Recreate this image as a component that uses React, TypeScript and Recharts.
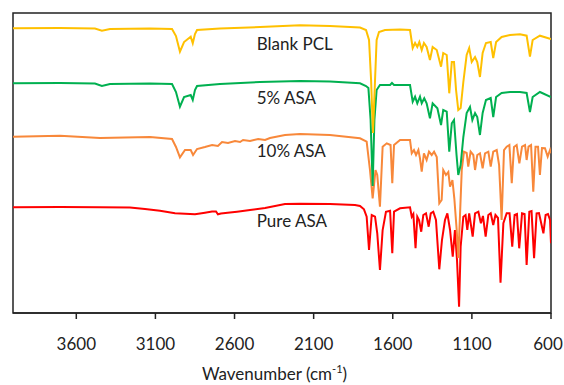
import React from 'react';
import { LineChart, Line, XAxis, YAxis, ReferenceArea } from 'recharts';

// Wavenumber ticks (cm-1)
const xTicks = [3600, 3100, 2600, 2100, 1600, 1100, 600];

// Blank PCL
const pclWn = [4000, 3703, 3482, 3438, 3387, 3134, 2995, 2970, 2945, 2919, 2877, 2864, 2850, 2837, 2692, 2439, 2186, 1997, 1807, 1769, 1750, 1737, 1725, 1712, 1702, 1687, 1649, 1554, 1491, 1474, 1459, 1445, 1432, 1417, 1403, 1386, 1365, 1348, 1322, 1295, 1281, 1259, 1243, 1227, 1213, 1200, 1186, 1171, 1154, 1133, 1117, 1101, 1080, 1066, 1049, 1032, 1011, 981, 965, 947, 912, 859, 796, 754, 733, 716, 670, 600];
const pclT = [284.7, 285, 284.5, 282.3, 284, 284.5, 284, 277, 261.3, 271, 276.3, 269.7, 279, 283, 284.5, 286, 287.7, 287, 285.5, 283, 273, 233, 180, 233, 273, 281, 283, 283.5, 283, 265, 270, 266, 271, 263, 270, 266, 253, 266, 263, 246.3, 260, 258, 219.7, 251, 251, 223, 203, 205, 231, 258, 265, 251, 256, 251, 236, 260, 270, 271, 255, 271, 276, 278, 278.7, 277.3, 256.3, 273, 277.3, 274];

// 5% ASA
const asa5Wn = [4000, 3703, 3482, 3438, 3387, 3134, 2995, 2970, 2945, 2919, 2877, 2864, 2850, 2837, 2692, 2439, 2186, 1997, 1807, 1769, 1754, 1740, 1727, 1716, 1702, 1681, 1617, 1605, 1592, 1491, 1474, 1459, 1445, 1428, 1417, 1401, 1386, 1365, 1348, 1318, 1295, 1281, 1259, 1243, 1227, 1213, 1197, 1186, 1171, 1154, 1133, 1112, 1097, 1080, 1066, 1049, 1032, 1011, 981, 965, 947, 912, 859, 796, 754, 733, 716, 670, 600];
const asa5T = [229.7, 230, 229.5, 227, 229, 229.5, 229, 221, 206.3, 216, 218, 213, 223, 227, 229, 231, 232, 231.5, 229.7, 227, 225, 193, 127, 193, 223, 228, 228, 230, 228, 228, 211.3, 216.3, 209.7, 216.3, 209.7, 214.7, 209.7, 194.7, 209.7, 204.7, 188, 203, 201.3, 161.3, 189.7, 193, 158, 138, 148, 176, 200, 206, 193, 200, 196, 178, 200, 213, 215, 196, 216, 220, 221, 221, 220, 201, 216, 221, 216];

// 10% ASA
const asa10Wn = [4000, 3703, 3450, 3134, 2995, 2970, 2945, 2913, 2877, 2862, 2837, 2787, 2742, 2705, 2679, 2641, 2597, 2565, 2546, 2502, 2451, 2407, 2376, 2281, 2186, 1997, 1807, 1765, 1744, 1727, 1709, 1698, 1681, 1664, 1638, 1614, 1603, 1592, 1554, 1491, 1480, 1466, 1453, 1438, 1428, 1417, 1403, 1386, 1371, 1354, 1339, 1322, 1306, 1291, 1281, 1264, 1249, 1238, 1223, 1211, 1196, 1186, 1175, 1164, 1150, 1133, 1123, 1108, 1091, 1080, 1066, 1049, 1032, 1017, 996, 981, 965, 943, 928, 912, 897, 880, 863, 848, 834, 817, 800, 783, 764, 754, 742, 726, 712, 698, 682, 670, 657, 638, 621, 606, 600];
const asa10T = [176.3, 177.3, 175, 176, 174, 166, 155.7, 163, 163, 158, 164, 166, 168, 167, 171, 170, 172, 171, 173, 172, 174, 173, 175, 178, 179, 178, 174.7, 171.3, 143, 114.7, 143, 138, 106.3, 166.3, 169.7, 168, 129.7, 168, 173, 173, 159.7, 163, 158, 163, 154.7, 141.3, 159.7, 153, 161.3, 158, 161.3, 156, 109.7, 113, 143, 138, 141, 126.3, 133, 114.7, 83, 55, 98, 143, 161.3, 160, 146.3, 161.3, 158, 143, 158, 159.7, 144.7, 159.7, 161.3, 146.3, 161.3, 163, 148, 93, 163, 166.3, 168, 129.7, 166, 168, 149.7, 166.3, 168, 153, 166.3, 168, 121.3, 166.3, 166.3, 138, 165, 164.7, 156.3, 163, 159.7];

// Pure ASA
const pureWn = [4000, 3703, 3450, 3261, 3166, 3071, 2976, 2881, 2850, 2818, 2787, 2742, 2717, 2705, 2686, 2629, 2584, 2502, 2407, 2281, 2186, 1997, 1839, 1807, 1782, 1765, 1750, 1733, 1712, 1698, 1681, 1664, 1643, 1617, 1603, 1592, 1554, 1491, 1480, 1470, 1456, 1445, 1434, 1420, 1407, 1390, 1373, 1360, 1344, 1327, 1306, 1289, 1270, 1255, 1238, 1221, 1207, 1194, 1181, 1171, 1154, 1140, 1129, 1117, 1095, 1080, 1059, 1043, 1030, 1013, 996, 981, 965, 951, 935, 919, 901, 880, 862, 845, 830, 815, 801, 783, 767, 754, 737, 723, 707, 691, 676, 648, 634, 619, 606, 600];
const pureT = [105.7, 106, 105.7, 105.5, 104, 102.3, 99.7, 99, 98.7, 99.5, 100.3, 101.5, 101.5, 98.7, 99.5, 100.5, 101.3, 103, 105, 109, 109.3, 109, 108, 107, 103.7, 96.3, 63, 98, 96.3, 79.7, 43, 83, 101.3, 102.3, 59.7, 101.3, 104.7, 105.7, 96.3, 99, 64.7, 96.3, 93, 81.3, 98, 99.7, 86.3, 99.7, 101.3, 93, 43.7, 73, 93, 99.7, 83, 56.3, 83, 53, 6.3, 66.3, 96.3, 98, 83, 99.7, 76.3, 99.7, 101.3, 89.7, 97, 76.3, 98, 99.7, 88, 98, 95, 30.3, 89.7, 99.7, 99.7, 66.3, 98, 99, 64.7, 99.7, 99, 48, 101.3, 102, 54.7, 99.7, 100, 79.7, 98, 99, 93, 69.7];

const seriesLabels = ['Blank PCL', '5% ASA', '10% ASA', 'Pure ASA'];

const toRows = (wn: number[], t: number[]) => wn.map((w, i) => ({ wn: w, t: t[i] }));

const pclData = toRows(pclWn, pclT);
const asa5Data = toRows(asa5Wn, asa5T);
const asa10Data = toRows(asa10Wn, asa10T);
const pureData = toRows(pureWn, pureT);

const FONT = 'Lato, "Liberation Sans", sans-serif';
const TEXT = '#222222';

const XTick = (props: any) => {
  const { x, y, payload } = props;
  const shift = payload.value === 600 ? -3 : 0;
  return (
    <text x={x + shift} y={y} dy="0.71em" textAnchor="middle" fill={TEXT} fontSize={17} fontFamily={FONT}>
      {payload.value}
    </text>
  );
};

export default function App() {
  const labelYs = [50, 104, 157.3, 227.3];
  return (
    <div style={{ position: 'absolute', left: 0, top: 0, width: 564, height: 385, background: '#fff' }}>
      <LineChart width={564} height={385} margin={{ top: 13, right: 13, left: 13, bottom: 42 }}>
        <XAxis
          dataKey="wn"
          type="number"
          domain={[600, 4000]}
          reversed
          ticks={xTicks}
          allowDataOverflow
          height={30}
          tickSize={6}
          tickMargin={19}
          axisLine={{ stroke: TEXT, strokeWidth: 1.5 }}
          tickLine={{ stroke: TEXT, strokeWidth: 1.5 }}
          tick={<XTick />}
        />
        <YAxis type="number" domain={[0, 300]} hide allowDataOverflow />
        <ReferenceArea x1={4000} x2={600} y1={0} y2={300} fill="none" stroke={TEXT} strokeWidth={1.5} strokeOpacity={1} />
        <Line data={pureData} dataKey="t" type="linear" stroke="#FF0000" strokeWidth={2} dot={false} isAnimationActive={false} />
        <Line data={asa10Data} dataKey="t" type="linear" stroke="#F8883A" strokeWidth={2} dot={false} isAnimationActive={false} />
        <Line data={asa5Data} dataKey="t" type="linear" stroke="#00B050" strokeWidth={2} dot={false} isAnimationActive={false} />
        <Line data={pclData} dataKey="t" type="linear" stroke="#FFC000" strokeWidth={2} dot={false} isAnimationActive={false} />
        {seriesLabels.map((s, i) => (
          <text key={s} x={256.7} y={labelYs[i]} fill={TEXT} fontSize={17} fontFamily={FONT}>
            {s}
          </text>
        ))}
        <text x={274.5} y={380} textAnchor="middle" fill={TEXT} fontSize={17} fontFamily={FONT}>
          Wavenumber (cm<tspan dy={-7} fontSize={11}>-1</tspan><tspan dy={7}>)</tspan>
        </text>
      </LineChart>
    </div>
  );
}
